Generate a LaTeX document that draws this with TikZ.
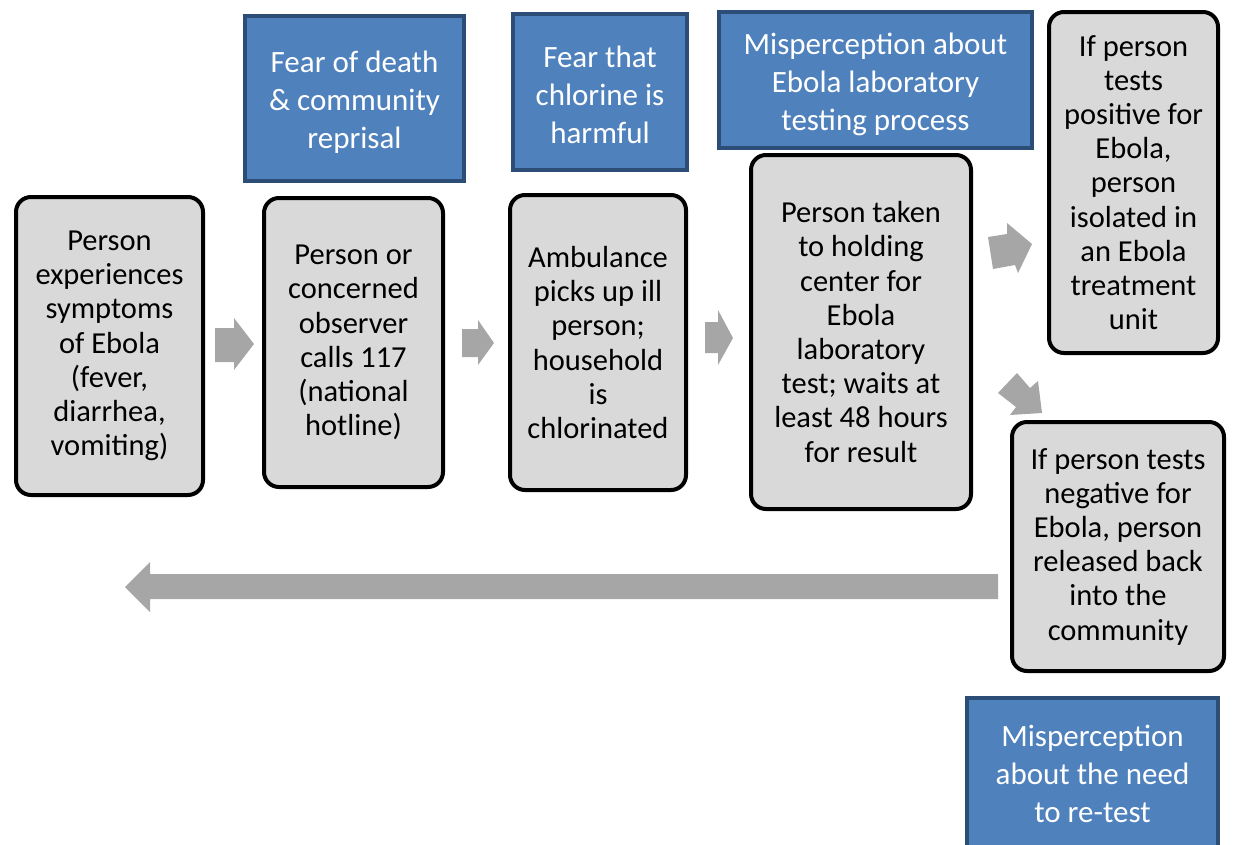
\documentclass[tikz,border=0pt]{standalone}
\usepackage{fontspec}
\setmainfont{Carlito}
\definecolor{boxgray}{HTML}{D9D9D9}
\definecolor{arrowgray}{HTML}{A6A6A6}
\definecolor{blfill}{HTML}{4F81BD}
\definecolor{bldraw}{HTML}{2C4D75}
\begin{document}
\begin{tikzpicture}[x=1pt,y=-1pt,
  gbox/.style={draw=black, line width=4pt, fill=boxgray, rounded corners=15pt,
    align=center, inner sep=0pt, text=black,
    font=\fontsize{30.5}{34.2}\selectfont},
  bbox/.style={draw=bldraw, line width=3.5pt, fill=blfill, inner sep=0pt},
  btext/.style={align=center, inner sep=0pt, text=white, font=\fontsize{31}{38}\selectfont},
  garrow/.style={fill=arrowgray, draw=none}]
\useasboundingbox (0,0) rectangle (1233,844);
\begin{scope}
\clip (0,0) rectangle (1233,844);
% gray process boxes
\node[gbox, minimum width=187pt, minimum height=298pt] (s1) at (109.5,346)
  {Person\\experiences\\symptoms\\of Ebola\\(fever,\\diarrhea,\\vomiting)};
\node[gbox, minimum width=179pt, minimum height=289pt] (s2) at (353.5,342.5)
  {Person or\\concerned\\observer\\calls 117\\(national\\hotline)};
\node[gbox, minimum width=176pt, minimum height=295pt] (s3) at (598,342.5)
  {Ambulance\\picks up ill\\person;\\household\\is\\chlorinated};
\node[gbox, minimum width=220pt, minimum height=354pt] (s4) at (861,332)
  {Person taken\\to holding\\center for\\Ebola\\laboratory\\test; waits at\\least 48 hours\\for result};
\node[gbox, minimum width=169pt, minimum height=341pt] (s5) at (1133.5,182.5)
  {If person\\tests\\positive for\\Ebola,\\person\\isolated in\\an Ebola\\treatment\\unit};
\node[gbox, minimum width=212pt, minimum height=249pt] (s6) at (1118,546.5)
  {If person tests\\negative for\\Ebola, person\\released back\\into the\\community};
% blue barrier boxes
\node[bbox, minimum width=219pt, minimum height=165pt,
  label={[btext, yshift=-3.5pt]center:Fear of death\\\& community\\reprisal}] (b1) at (354.5,98.5) {};
\node[bbox, minimum width=174pt, minimum height=156pt,
  label={[btext, yshift=-3pt]center:Fear that\\chlorine is\\harmful}] (b2) at (600,92) {};
\node[bbox, minimum width=313pt, minimum height=136pt,
  label={[btext, yshift=-4pt]center:Misperception about\\Ebola laboratory\\testing process}] (b3) at (875.5,80) {};
\node[bbox, minimum width=251pt, minimum height=152pt,
  label={[btext]center:Misperception\\about the need\\to re-test}] (b4) at (1092.5,774) {};
% block arrows
\fill[garrow] (215,328) -- (234,328) -- (234,318) -- (254,344) -- (234,370) -- (234,362) -- (215,362) -- cycle;
\fill[garrow] (462,329) -- (478,329) -- (478,320) -- (494,343) -- (478,365) -- (478,357) -- (462,357) -- cycle;
\fill[garrow] (705,322) -- (718,322) -- (718,310) -- (733,338) -- (718,365) -- (718,353) -- (705,353) -- cycle;
\fill[garrow] (988,237) -- (1007,234) -- (1007,223) -- (1032,244) -- (1018,273) -- (1015,265) -- (993,269) -- cycle;
\fill[garrow] (998,393) -- (1017,373) -- (1030,388) -- (1038,381) -- (1042,413) -- (1010,415) -- (1016,407) -- cycle;
\fill[garrow] (998,574) -- (150,574) -- (150,562) -- (125,587) -- (150,612) -- (150,599) -- (998,599) -- cycle;
\end{scope}
\end{tikzpicture}
\end{document}
